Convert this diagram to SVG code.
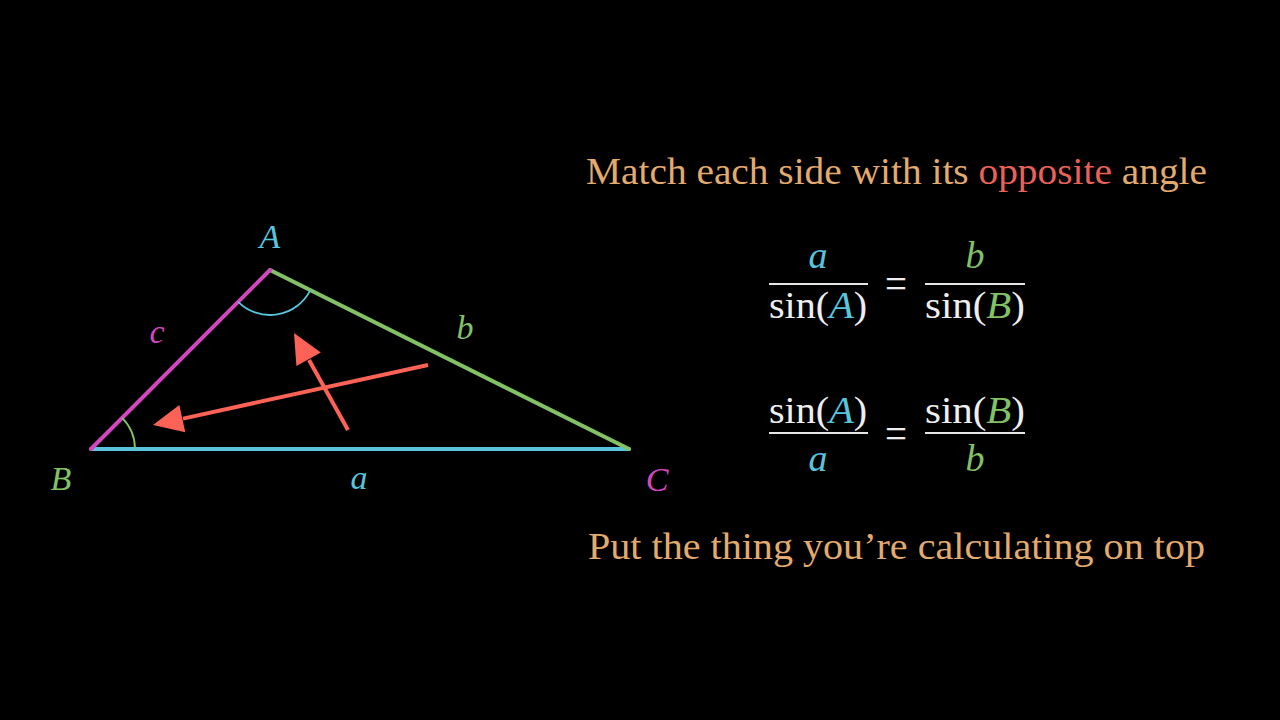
<svg xmlns="http://www.w3.org/2000/svg" width="1280" height="720" viewBox="0 0 1280 720">
<style>
.lbl{font-family:"Liberation Serif","DejaVu Serif",serif;font-style:italic;font-size:34px;text-anchor:middle}
.math{font-family:"Liberation Serif","DejaVu Serif",serif;font-size:38px;fill:#EEEEEE;text-anchor:middle}
.eq{font-family:"Liberation Serif","DejaVu Serif",serif;font-size:44px;fill:#EEEEEE}
.it{font-style:italic}
.txt{font-family:"Liberation Serif","DejaVu Serif",serif;font-size:37px;fill:#E3AA6E}
.blue{fill:#58C4DD}.green{fill:#83C167}.pink{fill:#D147BD}.red{fill:#FC6255}
.side{stroke-width:4;stroke-linecap:round;fill:none}
.arc{stroke-width:1.8;fill:none}
.bar{stroke:#E6E6E6;stroke-width:2}
.arrow{stroke:#FC6255;stroke-width:4;fill:none}
</style>
<rect width="1280" height="720" fill="#000"/>
<g id="triangle">
<line class="side" x1="91" y1="449" x2="629" y2="449" stroke="#58C4DD"/>
<line class="side" x1="270" y1="270" x2="629" y2="449" stroke="#83C167"/>
<line class="side" x1="91" y1="449" x2="270" y2="270" stroke="#D147BD"/>
<path class="arc" d="M238.2,301.8 A45,45 0 0 0 310.3,290.1" stroke="#58C4DD"/>
<path class="arc" d="M122.1,417.9 A44,44 0 0 1 135,449" stroke="#83C167"/>
</g>
<g id="labels">
<text class="lbl blue" x="270" y="248">A</text>
<text class="lbl green" x="61" y="490">B</text>
<text class="lbl pink" x="657" y="491">C</text>
<text class="lbl blue" x="359" y="489">a</text>
<text class="lbl green" x="465" y="339">b</text>
<text class="lbl pink" x="157" y="343">c</text>
</g>
<g id="connectors">
<line class="arrow" x1="428" y1="365" x2="183" y2="418.6"/>
<polygon class="red" points="153,425 185.3,432.3 179.3,404.9"/>
<line class="arrow" x1="348" y1="430" x2="309" y2="360"/>
<polygon class="red" points="294,333 320.8,352.4 296.4,366"/>
</g>
<g id="title">
<text class="txt" x="586" y="184" textLength="621" lengthAdjust="spacingAndGlyphs">Match each side with its <tspan class="red" style="fill:#E8625A">opposite</tspan> angle</text>
</g>
<g id="eq1">
<text class="math it blue" x="818" y="268">a</text>
<line class="bar" x1="769" y1="284" x2="868" y2="284"/>
<text class="math" x="818" y="318" textLength="98" lengthAdjust="spacingAndGlyphs">sin(<tspan class="it blue">A</tspan>)</text>
<text class="eq" x="885" y="298" textLength="22" lengthAdjust="spacingAndGlyphs">=</text>
<text class="math it green" x="975" y="268">b</text>
<line class="bar" x1="925" y1="284" x2="1025" y2="284"/>
<text class="math" x="975" y="318" textLength="100" lengthAdjust="spacingAndGlyphs">sin(<tspan class="it green">B</tspan>)</text>
</g>
<g id="eq2">
<text class="math" x="818" y="423" textLength="98" lengthAdjust="spacingAndGlyphs">sin(<tspan class="it blue">A</tspan>)</text>
<line class="bar" x1="769" y1="433" x2="868" y2="433"/>
<text class="math it blue" x="818" y="471">a</text>
<text class="eq" x="885" y="448" textLength="22" lengthAdjust="spacingAndGlyphs">=</text>
<text class="math" x="975" y="423" textLength="100" lengthAdjust="spacingAndGlyphs">sin(<tspan class="it green">B</tspan>)</text>
<line class="bar" x1="925" y1="433" x2="1025" y2="433"/>
<text class="math it green" x="975" y="471">b</text>
</g>
<g id="footer">
<text class="txt" x="588" y="559" textLength="617" lengthAdjust="spacingAndGlyphs">Put the thing you’re calculating on top</text>
</g>
</svg>
